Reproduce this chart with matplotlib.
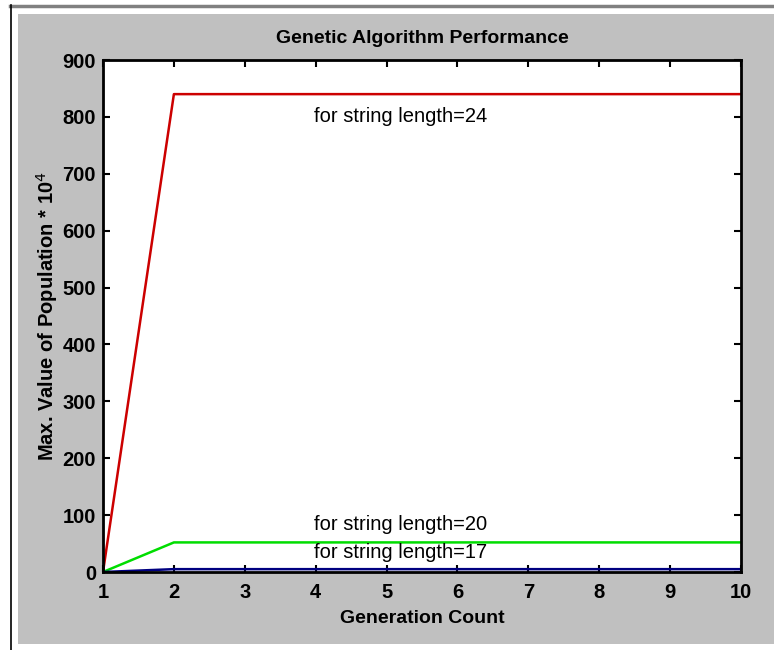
import numpy as np
import matplotlib.pyplot as plt
from matplotlib.patches import Rectangle
from matplotlib.lines import Line2D

# data
gen = [1, 2, 3, 4, 5, 6, 7, 8, 9, 10]
len24 = [0, 840, 840, 840, 840, 840, 840, 840, 840, 840]
len20 = [0, 52, 52, 52, 52, 52, 52, 52, 52, 52]
len17 = [0, 5, 5, 5, 5, 5, 5, 5, 5, 5]

plt.rcParams['font.family'] = ['Liberation Sans', 'DejaVu Sans']

W, H = 774, 650
fig = plt.figure(figsize=(W / 100, H / 100), dpi=100)
fig.patch.set_facecolor('white')

# gray window background and frame lines
fig.add_artist(Rectangle((18 / W, 1 - 644 / H), (W - 18) / W, (644 - 14) / H,
                         transform=fig.transFigure, facecolor='#c0c0c0',
                         edgecolor='none', zorder=-10))
fig.add_artist(Line2D([10 / W, 1], [1 - 5.5 / H, 1 - 5.5 / H], transform=fig.transFigure,
                      color='#808080', lw=2.5, zorder=-5))
fig.add_artist(Line2D([10.5 / W, 10.5 / W], [0, 1 - 5 / H], transform=fig.transFigure,
                      color='black', lw=1.2, zorder=-5))

ax = fig.add_axes([103 / W, 1 - 572 / H, (741 - 103) / W, (572 - 60) / H])
ax.set_zorder(5)
ax.set_facecolor('white')

ax.plot(gen, len24, color='#cc0000', lw=1.8)
ax.plot(gen, len20, color='#00dd00', lw=1.8)
ax.plot(gen, len17, color='#000080', lw=1.8)

ax.text(3.98, 800, 'for string length=24', fontsize=14.5, va='center')
ax.text(3.98, 84, 'for string length=20', fontsize=14.5, va='center')
ax.text(3.98, 34, 'for string length=17', fontsize=14.5, va='center')

ax.set_xlim(1, 10)
ax.set_ylim(0, 900)
ax.set_xticks(gen)
ax.set_yticks(np.arange(0, 901, 100))
ax.tick_params(direction='in', top=True, right=True, length=5, width=1.5,
               labelsize=14.5)
ax.tick_params(axis='x', pad=8)
ax.tick_params(axis='y', pad=5)
for lab in ax.get_xticklabels() + ax.get_yticklabels():
    lab.set_fontweight('bold')
for s in ax.spines.values():
    s.set_linewidth(2)

ax.set_title('Genetic Algorithm Performance', fontsize=14, fontweight='bold', pad=12)
ax.set_xlabel('Generation Count', fontsize=14, fontweight='bold', labelpad=6)
ax.set_ylabel('Max. Value of Population * 10$^4$', fontsize=14.5, fontweight='bold', labelpad=1.5)

fig.savefig('out.png', dpi=100)
